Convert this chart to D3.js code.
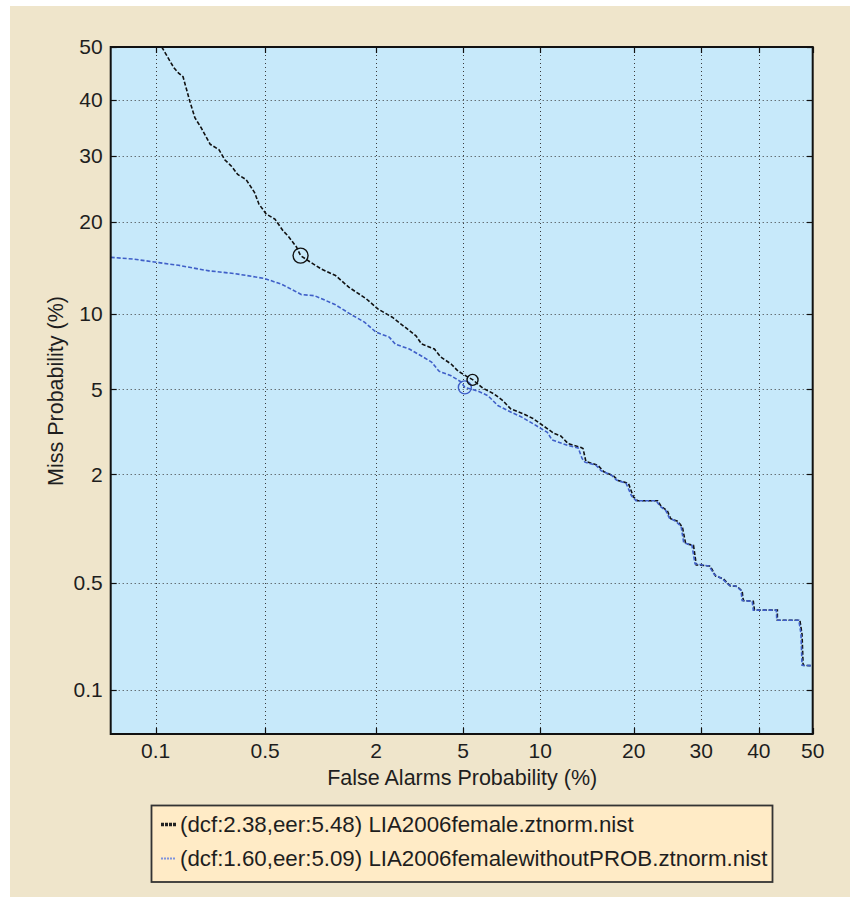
<!DOCTYPE html>
<html>
<head>
<meta charset="utf-8">
<script src="https://cdn.jsdelivr.net/npm/d3@7"></script>
<style>
  html, body { margin: 0; padding: 0; background: #ffffff; }
  svg { display: block; }
  text { font-family: "Liberation Sans", Arial, Helvetica, sans-serif; fill: #1e1e1e; }
</style>
</head>
<body>
<svg id="chart" width="850" height="907"></svg>
<script>
// ---------------- data (percent) ----------------
const tickValues = [0.1, 0.5, 2, 5, 10, 20, 30, 40, 50];
const tickLabels = ["0.1", "0.5", "2", "5", "10", "20", "30", "40", "50"];
const xTitle = "False Alarms Probability (%)";
const yTitle = "Miss Probability (%)";

const seriesNames = [
  "(dcf:2.38,eer:5.48) LIA2006female.ztnorm.nist",
  "(dcf:1.60,eer:5.09) LIA2006femalewithoutPROB.ztnorm.nist"
];

// Series 1 (black): false alarm %, miss %
const blackFA = [0.11, 0.133, 0.143, 0.153, 0.17, 0.183, 0.201, 0.23, 0.261, 0.284, 0.314, 0.342, 0.385, 0.433, 0.46, 0.508, 0.571, 0.639, 0.679, 0.76, 0.80, 0.90, 1.04, 1.24, 1.46,
  1.79, 2.04, 2.4, 2.76, 3.11, 3.29, 3.76, 4.01, 4.45, 4.77, 5.14, 5.5, 6.03, 6.68, 7.25, 7.77, 8.65, 9.41, 10.3, 11.2, 11.8, 12.5, 13.8,
  14.0, 14.3, 15.6, 16.3, 17.4, 18.0, 19.3, 19.95, 20.5, 23.3, 23.8, 24.7, 25.2, 26.3, 27.0, 27.5, 28.75, 29.2, 31.5, 32.4, 33.7, 34.9, 36.1, 37.0, 37.2, 39.0, 39.2, 43.4, 43.4, 47.6, 48.0, 48.2, 50];
const blackMiss = [50, 46, 45, 44.3, 39.6, 36.7, 34.9, 32.0, 31.1, 29.4, 28.3, 27.0, 26.2, 24.2, 22.5, 21.1, 20.4, 18.8, 18.2, 16.8, 15.8, 15.1, 14.3, 13.6, 12.4,
  11.3, 10.4, 9.7, 8.9, 8.23, 7.67, 7.33, 6.81, 6.38, 5.96, 5.70, 5.48, 5.06, 4.78, 4.46, 4.10, 3.90, 3.71, 3.42, 3.16, 3.08, 2.83, 2.71,
  2.68, 2.32, 2.22, 2.06, 1.97, 1.86, 1.80, 1.53, 1.46, 1.46, 1.36, 1.29, 1.17, 1.13, 1.05, 0.85, 0.83, 0.64, 0.63, 0.55, 0.53, 0.48, 0.477, 0.445, 0.39, 0.386, 0.34, 0.34, 0.293, 0.293, 0.238, 0.148, 0.147];

// Series 2 (blue)
const blueFA = [0.048, 0.07, 0.105, 0.143, 0.193, 0.226, 0.33, 0.495, 0.626, 0.81, 0.955, 1.23, 1.49,
  1.75, 2.0, 2.32, 2.48, 2.89, 3.18, 3.65, 3.94, 4.45, 4.9, 5.09, 5.77, 6.33, 6.93, 7.77, 8.5, 9.49, 10.6, 11.0, 12.5,
  13.5, 13.9, 14.2, 15.4, 16.0, 17.2, 17.8, 19.0, 19.7, 20.3, 23.1, 23.6, 24.5, 25.0, 26.0, 26.8, 27.2, 28.5, 29.0, 31.3, 32.2, 33.5, 34.7, 35.9, 36.8, 37.0, 38.8, 39.0, 43.2, 43.3, 47.4, 47.8, 48.0, 50];
const blueMiss = [15.6, 15.4, 15.0, 14.7, 14.3, 14.1, 13.8, 13.3, 12.7, 11.7, 11.6, 10.8, 9.94,
  9.3, 8.52, 8.16, 7.67, 7.33, 6.99, 6.5, 5.96, 5.70, 5.38, 5.09, 4.91, 4.69, 4.24, 3.97, 3.78, 3.49, 3.20, 2.95, 2.77,
  2.70, 2.40, 2.30, 2.22, 2.08, 1.98, 1.87, 1.80, 1.55, 1.46, 1.46, 1.37, 1.29, 1.18, 1.13, 1.06, 0.86, 0.83, 0.65, 0.63, 0.56, 0.53, 0.485, 0.477, 0.45, 0.39, 0.386, 0.34, 0.34, 0.293, 0.293, 0.24, 0.148, 0.147];

// marked operating points (percent)
const blackDcf = [0.80, 15.8];
const blackEer = [5.48, 5.48];
const blueEer = [5.09, 5.09];

const axisMin = 0.048; // percent, lower limit of both axes
const axisMax = 50;

// ---------------- helpers ----------------
function probit(p) { // inverse normal CDF, Acklam
  const a = [-3.969683028665376e+01, 2.209460984245205e+02, -2.759285104469687e+02, 1.383577518672690e+02, -3.066479806614716e+01, 2.506628277459239e+00];
  const b = [-5.447609879822406e+01, 1.615858368580409e+02, -1.556989798598866e+02, 6.680131188771972e+01, -1.328068155288572e+01];
  const c = [-7.784894002430293e-03, -3.223964580411365e-01, -2.400758277161838e+00, -2.549671010539023e+00, 4.374664141464968e+00, 2.938163982698783e+00];
  const d = [7.784695709041462e-03, 3.224671290700398e-01, 2.445134137142996e+00, 3.754408661907416e+00];
  const pl = 0.02425, ph = 1 - pl;
  let q, r;
  if (p < pl) {
    q = Math.sqrt(-2 * Math.log(p));
    return (((((c[0]*q+c[1])*q+c[2])*q+c[3])*q+c[4])*q+c[5]) / ((((d[0]*q+d[1])*q+d[2])*q+d[3])*q+1);
  } else if (p <= ph) {
    q = p - 0.5; r = q * q;
    return (((((a[0]*r+a[1])*r+a[2])*r+a[3])*r+a[4])*r+a[5])*q / (((((b[0]*r+b[1])*r+b[2])*r+b[3])*r+b[4])*r+1);
  } else {
    q = Math.sqrt(-2 * Math.log(1 - p));
    return -(((((c[0]*q+c[1])*q+c[2])*q+c[3])*q+c[4])*q+c[5]) / ((((d[0]*q+d[1])*q+d[2])*q+d[3])*q+1);
  }
}

// ---------------- layout ----------------
const svg = d3.select("#chart");
const plot = { left: 110.7, right: 812.7, top: 47, bottom: 734 };

const xs = d3.scaleLinear().domain([probit(axisMin / 100), probit(axisMax / 100)]).range([plot.left, plot.right]);
const ys = d3.scaleLinear().domain([probit(axisMin / 100), probit(axisMax / 100)]).range([plot.bottom, plot.top]);
const X = v => xs(probit(v / 100));
const Y = v => ys(probit(v / 100));

// background panel
svg.append("rect").attr("x", 10).attr("y", 6).attr("width", 840).attr("height", 891).attr("fill", "#EFE5CB");

// plot area
svg.append("rect").attr("x", plot.left).attr("y", plot.top)
  .attr("width", plot.right - plot.left).attr("height", plot.bottom - plot.top)
  .attr("fill", "#C7E9FA");

svg.append("clipPath").attr("id", "clip").append("rect")
  .attr("x", plot.left).attr("y", plot.top)
  .attr("width", plot.right - plot.left).attr("height", plot.bottom - plot.top);

// grid
const grid = svg.append("g").attr("stroke", "#3a3a3a").attr("stroke-width", 1).attr("stroke-dasharray", "1,3");
tickValues.forEach(v => {
  const gx = Math.round(X(v)) + 0.5;
  const gy = Math.round(Y(v)) + 0.5;
  if (v < 50) {
    grid.append("line").attr("x1", gx).attr("x2", gx).attr("y1", plot.top).attr("y2", plot.bottom);
    grid.append("line").attr("x1", plot.left).attr("x2", plot.right).attr("y1", gy).attr("y2", gy);
  }
});

// ticks (inside, on all four sides)
const tk = svg.append("g").attr("stroke", "#111").attr("stroke-width", 1.2);
tickValues.forEach(v => {
  const gx = Math.round(X(v)) + 0.5;
  const gy = Math.round(Y(v)) + 0.5;
  tk.append("line").attr("x1", plot.left).attr("x2", plot.left + 6).attr("y1", gy).attr("y2", gy);
  tk.append("line").attr("x1", plot.right - 6).attr("x2", plot.right).attr("y1", gy).attr("y2", gy);
  tk.append("line").attr("x1", gx).attr("x2", gx).attr("y1", plot.bottom - 6).attr("y2", plot.bottom);
  tk.append("line").attr("x1", gx).attr("x2", gx).attr("y1", plot.top).attr("y2", plot.top + 6);
});

// tick labels
tickValues.forEach((v, i) => {
  svg.append("text").attr("x", plot.left - 8).attr("y", Y(v)).attr("dy", "0.35em")
    .attr("text-anchor", "end").attr("font-size", 21).text(tickLabels[i]);
  svg.append("text").attr("x", X(v)).attr("y", 758)
    .attr("text-anchor", "middle").attr("font-size", 21).text(tickLabels[i]);
});

// axis titles
svg.append("text").attr("x", (plot.left + plot.right) / 2 + 0.5).attr("y", 785)
  .attr("text-anchor", "middle").attr("font-size", 21.5).text(xTitle);
svg.append("text").attr("transform", "translate(63," + 391 + ") rotate(-90)")
  .attr("text-anchor", "middle").attr("font-size", 21.5).text(yTitle);

// curves
const line = d3.line().x(d => X(d[0])).y(d => Y(d[1]));
const blackPts = blackFA.map((v, i) => [v, blackMiss[i]]);
const bluePts = blueFA.map((v, i) => [v, blueMiss[i]]);
const curves = svg.append("g").attr("clip-path", "url(#clip)");
const blueColor = "#3F5FC8";
curves.append("path").datum(blackPts).attr("d", line)
  .attr("fill", "none").attr("stroke", "#111").attr("stroke-width", 1.6).attr("stroke-dasharray", "4,2");
curves.append("path").datum(bluePts).attr("d", line)
  .attr("fill", "none").attr("stroke", blueColor).attr("stroke-width", 1.6).attr("stroke-dasharray", "4,2");

// markers
curves.append("circle").attr("cx", X(blueEer[0])).attr("cy", Y(blueEer[1])).attr("r", 6.5)
  .attr("fill", "none").attr("stroke", blueColor).attr("stroke-width", 1.4);
curves.append("circle").attr("cx", X(blackEer[0])).attr("cy", Y(blackEer[1])).attr("r", 5.5)
  .attr("fill", "none").attr("stroke", "#111").attr("stroke-width", 1.4);
curves.append("circle").attr("cx", X(blackDcf[0])).attr("cy", Y(blackDcf[1])).attr("r", 7.5)
  .attr("fill", "none").attr("stroke", "#111").attr("stroke-width", 1.4);

// frame
svg.append("rect").attr("x", plot.left).attr("y", plot.top)
  .attr("width", plot.right - plot.left).attr("height", plot.bottom - plot.top)
  .attr("fill", "none").attr("stroke", "#111").attr("stroke-width", 2);

// legend
const lg = svg.append("g");
lg.append("rect").attr("x", 151.5).attr("y", 805.5).attr("width", 621).attr("height", 76.5)
  .attr("fill", "#FFEBC6").attr("stroke", "#333").attr("stroke-width", 1.8);
const legendColors = ["#222", "#7f93dd"];
const legendDash = ["3,1", "2,1"];
const legendWidth = [3.5, 2];
seriesNames.forEach((name, i) => {
  const cy = 824.5 + i * 34;
  lg.append("line").attr("x1", 161).attr("x2", 176).attr("y1", cy).attr("y2", cy)
    .attr("stroke", legendColors[i]).attr("stroke-width", legendWidth[i]).attr("stroke-dasharray", legendDash[i]);
  lg.append("text").attr("x", 180).attr("y", cy).attr("dy", "0.35em").attr("font-size", 22.3).text(name);
});
</script>
</body>
</html>
